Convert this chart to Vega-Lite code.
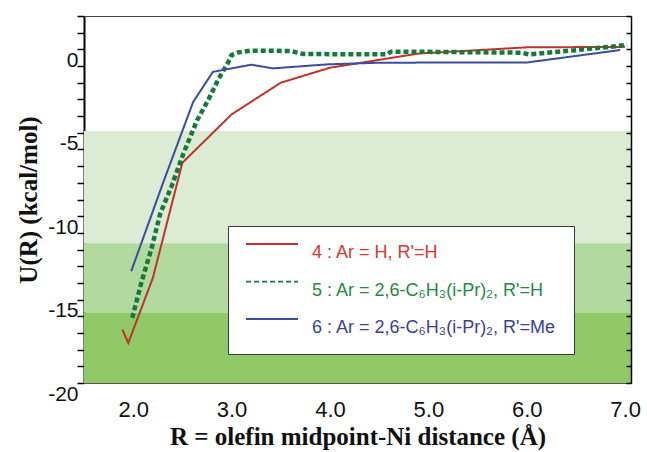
{
  "$schema": "https://vega.github.io/schema/vega-lite/v6.json",
  "width": 547,
  "height": 367,
  "autosize": {"type": "none"},
  "padding": {"left": 84, "top": 16, "right": 16, "bottom": 69},
  "background": "white",
  "config": {
    "view": {"stroke": null},
    "font": "Liberation Sans",
    "axis": {"ticks": true},
    "legend": {
      "strokeColor": "#3a3a3a",
      "fillColor": "white",
      "padding": 17,
      "symbolType": "stroke",
      "symbolSize": 2704,
      "symbolStrokeWidth": 2,
      "clipHeight": 2,
      "labelFont": "Liberation Sans",
      "labelFontSize": 18,
      "labelOffset": 13,
      "labelBaseline": "top",
      "labelLimit": 400,
      "rowPadding": 18.5
    }
  },
  "datasets": {
    "bands": [
      {"band": "light", "lo": -11.62, "hi": -4.9},
      {"band": "mid", "lo": -15.77, "hi": -11.62},
      {"band": "dark", "lo": -20, "hi": -15.77}
    ],
    "curves": [
      {"series": "4 : Ar = H, R'=H", "R": 1.89, "U": -16.8},
      {"series": "4 : Ar = H, R'=H", "R": 1.95, "U": -17.6},
      {"series": "4 : Ar = H, R'=H", "R": 2.2, "U": -13.7},
      {"series": "4 : Ar = H, R'=H", "R": 2.5, "U": -6.8},
      {"series": "4 : Ar = H, R'=H", "R": 3.0, "U": -3.9},
      {"series": "4 : Ar = H, R'=H", "R": 3.5, "U": -2.0},
      {"series": "4 : Ar = H, R'=H", "R": 4.0, "U": -1.1},
      {"series": "4 : Ar = H, R'=H", "R": 4.9, "U": -0.25},
      {"series": "4 : Ar = H, R'=H", "R": 6.0, "U": 0.12},
      {"series": "4 : Ar = H, R'=H", "R": 7.0, "U": 0.15},
      {"series": "5 : Ar = 2,6-C₆H₃(i-Pr)₂, R'=H", "R": 1.99, "U": -16.1},
      {"series": "5 : Ar = 2,6-C₆H₃(i-Pr)₂, R'=H", "R": 2.04, "U": -14.97},
      {"series": "5 : Ar = 2,6-C₆H₃(i-Pr)₂, R'=H", "R": 2.088, "U": -13.87},
      {"series": "5 : Ar = 2,6-C₆H₃(i-Pr)₂, R'=H", "R": 2.19, "U": -11.86},
      {"series": "5 : Ar = 2,6-C₆H₃(i-Pr)₂, R'=H", "R": 2.274, "U": -9.86},
      {"series": "5 : Ar = 2,6-C₆H₃(i-Pr)₂, R'=H", "R": 2.393, "U": -8.16},
      {"series": "5 : Ar = 2,6-C₆H₃(i-Pr)₂, R'=H", "R": 2.51, "U": -6.25},
      {"series": "5 : Ar = 2,6-C₆H₃(i-Pr)₂, R'=H", "R": 2.65, "U": -4.25},
      {"series": "5 : Ar = 2,6-C₆H₃(i-Pr)₂, R'=H", "R": 2.77, "U": -2.95},
      {"series": "5 : Ar = 2,6-C₆H₃(i-Pr)₂, R'=H", "R": 2.87, "U": -1.74},
      {"series": "5 : Ar = 2,6-C₆H₃(i-Pr)₂, R'=H", "R": 2.96, "U": -0.84},
      {"series": "5 : Ar = 2,6-C₆H₃(i-Pr)₂, R'=H", "R": 3.0, "U": -0.34},
      {"series": "5 : Ar = 2,6-C₆H₃(i-Pr)₂, R'=H", "R": 3.07, "U": -0.18},
      {"series": "5 : Ar = 2,6-C₆H₃(i-Pr)₂, R'=H", "R": 3.19, "U": -0.08},
      {"series": "5 : Ar = 2,6-C₆H₃(i-Pr)₂, R'=H", "R": 3.39, "U": -0.08},
      {"series": "5 : Ar = 2,6-C₆H₃(i-Pr)₂, R'=H", "R": 3.6, "U": -0.1},
      {"series": "5 : Ar = 2,6-C₆H₃(i-Pr)₂, R'=H", "R": 3.73, "U": -0.28},
      {"series": "5 : Ar = 2,6-C₆H₃(i-Pr)₂, R'=H", "R": 4.58, "U": -0.3},
      {"series": "5 : Ar = 2,6-C₆H₃(i-Pr)₂, R'=H", "R": 4.62, "U": -0.14},
      {"series": "5 : Ar = 2,6-C₆H₃(i-Pr)₂, R'=H", "R": 5.0, "U": -0.15},
      {"series": "5 : Ar = 2,6-C₆H₃(i-Pr)₂, R'=H", "R": 5.95, "U": -0.2},
      {"series": "5 : Ar = 2,6-C₆H₃(i-Pr)₂, R'=H", "R": 6.02, "U": -0.3},
      {"series": "5 : Ar = 2,6-C₆H₃(i-Pr)₂, R'=H", "R": 6.5, "U": -0.05},
      {"series": "5 : Ar = 2,6-C₆H₃(i-Pr)₂, R'=H", "R": 7.02, "U": 0.26},
      {"series": "6 : Ar = 2,6-C₆H₃(i-Pr)₂, R'=Me", "R": 1.98, "U": -13.3},
      {"series": "6 : Ar = 2,6-C₆H₃(i-Pr)₂, R'=Me", "R": 2.31, "U": -7.9},
      {"series": "6 : Ar = 2,6-C₆H₃(i-Pr)₂, R'=Me", "R": 2.61, "U": -3.15},
      {"series": "6 : Ar = 2,6-C₆H₃(i-Pr)₂, R'=Me", "R": 2.81, "U": -1.35},
      {"series": "6 : Ar = 2,6-C₆H₃(i-Pr)₂, R'=Me", "R": 3.2, "U": -0.92},
      {"series": "6 : Ar = 2,6-C₆H₃(i-Pr)₂, R'=Me", "R": 3.42, "U": -1.14},
      {"series": "6 : Ar = 2,6-C₆H₃(i-Pr)₂, R'=Me", "R": 3.97, "U": -0.9},
      {"series": "6 : Ar = 2,6-C₆H₃(i-Pr)₂, R'=Me", "R": 4.5, "U": -0.8},
      {"series": "6 : Ar = 2,6-C₆H₃(i-Pr)₂, R'=Me", "R": 6.01, "U": -0.78},
      {"series": "6 : Ar = 2,6-C₆H₃(i-Pr)₂, R'=Me", "R": 6.95, "U": -0.04}
    ]
  },
  "layer": [
    {
      "data": {"name": "bands"},
      "mark": {"type": "rect"},
      "encoding": {
        "x": {
          "datum": 1.5, "type": "quantitative",
          "scale": {"domain": [1.5, 7.06], "nice": false, "zero": false},
          "axis": {"orient": "top", "title": null, "labels": false, "ticks": false, "grid": false, "domainColor": "#444444", "domainWidth": 1, "zindex": 2}
        },
        "x2": {"datum": 7.06},
        "y": {
          "field": "lo", "type": "quantitative",
          "scale": {"domain": [-20, 2], "nice": false, "zero": false},
          "axis": {
            "title": "U(R) (kcal/mol)",
            "values": [-20,-19,-18,-17,-16,-15,-14,-13,-12,-11,-10,-9,-8,-7,-6,-5,-4,-3,-2,-1,0,1,2],
            "labelExpr": "datum.value % 5 === 0 ? '' + datum.value : ''",
            "labelOverlap": false,
            "ticks": true,
            "tickSize": 7,
            "tickColor": "#000000",
            "tickWidth": 1.5,
            "domainColor": "black",
            "domainWidth": 2,
            "labelFont": "Liberation Sans",
            "labelFontSize": 21,
            "labelColor": "#111111",
            "labelOffset": 11,
            "labelPadding": -1,
            "grid": false,
            "titleFont": "Liberation Serif",
            "titleFontWeight": "bold",
            "titleFontSize": 25,
            "titleColor": "#111111",
            "titlePadding": 6
          }
        },
        "y2": {"field": "hi"},
        "fill": {
          "field": "band", "type": "nominal",
          "scale": {"domain": ["light", "mid", "dark"], "range": ["#dcebd3", "#b2d99e", "#90c966"]},
          "legend": null
        }
      }
    },
    {
      "data": {"name": "curves"},
      "mark": {"type": "line"},
      "encoding": {
        "x": {
          "field": "R", "type": "quantitative",
          "scale": {"domain": [1.5, 7.06], "nice": false, "zero": false},
          "axis": {
            "orient": "bottom",
            "title": "R = olefin midpoint-Ni distance (Å)",
            "values": [2, 3, 4, 5, 6, 7],
            "format": ".1f",
            "ticks": false,
            "domain": true,
            "domainColor": "#555555",
            "domainWidth": 1,
            "grid": false,
            "zindex": 2,
            "labelFont": "Liberation Sans",
            "labelFontSize": 22,
            "labelColor": "#111111",
            "labelPadding": 16,
            "titleFont": "Liberation Serif",
            "titleFontWeight": "bold",
            "titleFontSize": 25,
            "titleColor": "#111111",
            "titlePadding": 4
          }
        },
        "y": {
          "field": "U", "type": "quantitative",
          "scale": {"domain": [-20, 2], "nice": false, "zero": false},
          "axis": {
            "orient": "right",
            "title": null,
            "labels": false,
            "values": [-20,-19,-18,-17,-16,-15,-14,-13,-12,-11,-10,-9,-8,-7,-6,-5,-4,-3,-2,-1,0,1,2],
            "ticks": true,
            "tickSize": -5,
            "tickColor": "black",
            "tickWidth": 1.5,
            "domainColor": "black",
            "domainWidth": 1.5,
            "grid": false,
            "zindex": 2
          }
        },
        "stroke": {
          "field": "series", "type": "nominal",
          "scale": {
            "domain": ["4 : Ar = H, R'=H", "5 : Ar = 2,6-C₆H₃(i-Pr)₂, R'=H", "6 : Ar = 2,6-C₆H₃(i-Pr)₂, R'=Me"],
            "range": ["#c0322b", "#137a3c", "#3a4ca6"]
          },
          "legend": {
            "orient": "none", "legendX": 144, "legendY": 210, "title": null,
            "labelColor": {"expr": "substring(datum.label, 0, 1) === '4' ? '#e0352c' : substring(datum.label, 0, 1) === '5' ? '#238a44' : '#3a3f9c'"}
          }
        },
        "strokeDash": {
          "field": "series", "type": "nominal",
          "scale": {
            "domain": ["4 : Ar = H, R'=H", "5 : Ar = 2,6-C₆H₃(i-Pr)₂, R'=H", "6 : Ar = 2,6-C₆H₃(i-Pr)₂, R'=Me"],
            "range": [[1, 0], [5, 3], [1, 0]]
          },
          "legend": {
            "orient": "none", "legendX": 144, "legendY": 210, "title": null,
            "labelColor": {"expr": "substring(datum.label, 0, 1) === '4' ? '#e0352c' : substring(datum.label, 0, 1) === '5' ? '#238a44' : '#3a3f9c'"}
          }
        },
        "strokeWidth": {
          "condition": {"test": "substring(datum.series, 0, 1) === '5'", "value": 4.5},
          "value": 2
        }
      }
    }
  ],
  "resolve": {"axis": {"y": "independent", "x": "independent"}}
}
